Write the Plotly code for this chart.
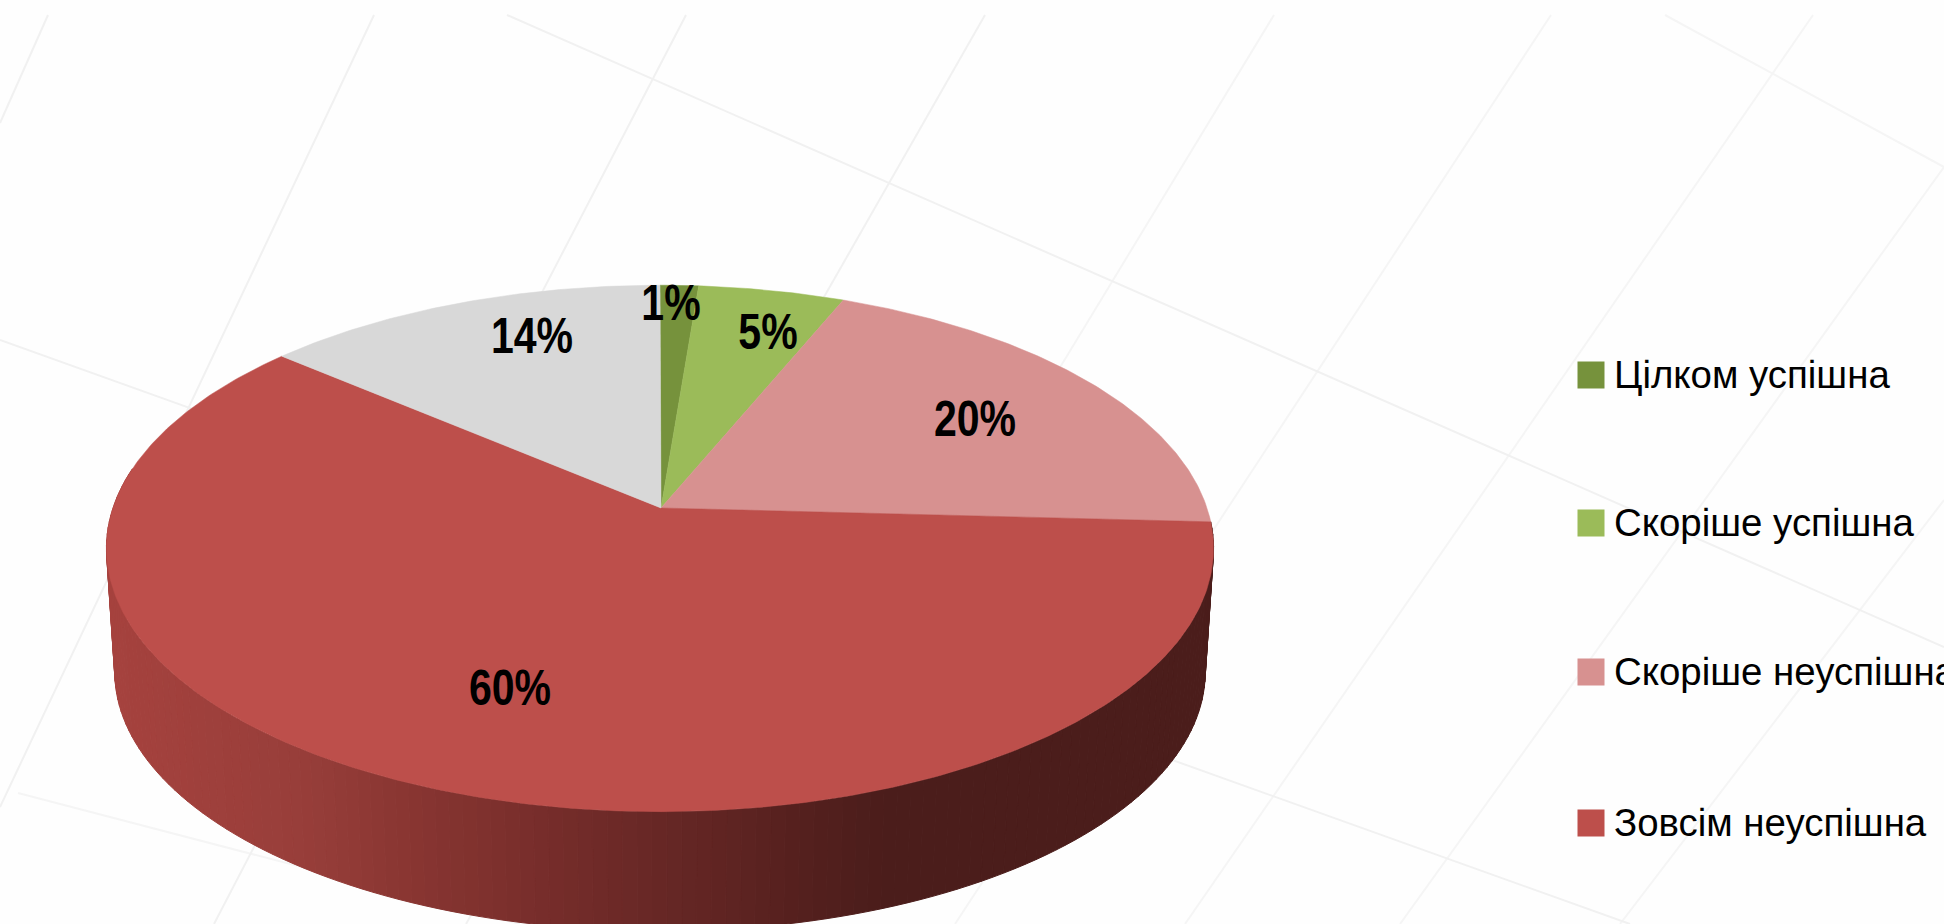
import numpy as np
import plotly.graph_objects as go

# ---- data ----
categories = ["Цілком успішна", "Скоріше успішна", "Скоріше неуспішна", "Зовсім неуспішна", "Інше"]
shares = [1.3, 4.95, 19.6, 60.4, 13.75]
colors = ["#76923c", "#9bbb59", "#d79190", "#bd4f4b", "#d8d8d8"]
legend_count = 4

# ---- placement of the drawing (page pixels) ----
CX, CY = 660.0, 508.0
A, B, K = 547.0, 257.0, 0.1536
DROP, SHRINK = 124.0, 0.985

label_x = [671, 532, 768, 975, 510]
label_order = [0, 4, 1, 2, 3]
label_y = [307, 340, 336, 423, 692]
legend_x = 1591
legend_text_x = 1614
legend_y = [375, 523, 672, 823]
legend_text_y = [378, 526, 675, 826]
side_stop_x = [105, 300, 400, 580, 670, 800, 880, 1214]
side_stop_rgb = [(166, 66, 62), (152, 62, 58), (138, 54, 50), (114, 43, 41),
                 (102, 39, 37), (85, 32, 30), (75, 29, 27), (75, 29, 27)]

# faint background lines of the slide, as (x0, y0, x1, y1)
bg_lines_left = [
    (48, 15, 0, 123), (374, 15, 0, 807), (686, 15, 214, 924), (985, 15, 466, 924),
    (0, 340, 1630, 924), (507, 15, 1944, 647),
]
bg_lines_right = [
    (1274, 15, 722, 924), (1551, 15, 955, 924), (1813, 15, 1185, 924),
    (1944, 167, 1400, 924), (1944, 500, 1620, 924),
    (1665, 15, 1944, 167), (18, 793, 520, 924),
]


def rim(theta, scale=1.0, drop=0.0):
    u, v = np.sin(theta), np.cos(theta)
    d = 1 + K * v
    return CX + scale * A * u / d, CY + drop - scale * B * v / d


fig = go.Figure()

# background lines
for group, col, w in ((bg_lines_right, "#f5f5f5", 2), (bg_lines_left, "#f1f1f1", 2)):
    xs, ys = [], []
    for x0, y0, x1, y1 in group:
        xs += [x0, x1, None]
        ys += [y0, y1, None]
    fig.add_trace(go.Scatter(x=xs, y=ys, mode="lines", line=dict(color=col, width=w),
                             hoverinfo="skip", showlegend=False))

edges = np.cumsum([0] + shares) / 100 * 2 * np.pi
front = 3  # index of the slice whose side wall is visible

# side wall of the front slice: thin strips shaded left to right
ts = np.linspace(max(edges[front], np.pi * 0.45), np.pi * 1.55, 141)
for t0, t1 in zip(ts[:-1], ts[1:]):
    ax, ay = rim(t0)
    bx, by = rim(t1)
    cx, cy = rim(t1, SHRINK, DROP)
    dx, dy = rim(t0, SHRINK, DROP)
    xm = (ax + bx + cx + dx) / 4
    rgb = [np.interp(xm, side_stop_x, [c[i] for c in side_stop_rgb]) for i in range(3)]
    col = "rgb(%d,%d,%d)" % tuple(round(c) for c in rgb)
    fig.add_trace(go.Scatter(x=[ax, bx, cx, dx, ax], y=[ay, by, cy, dy, ay], mode="lines",
                             fill="toself", fillcolor=col, line=dict(color=col, width=1),
                             hoverinfo="skip", showlegend=False))

# top faces
for i, (name, col) in enumerate(zip(categories, colors)):
    t = np.linspace(edges[i], edges[i + 1], max(8, int(shares[i] * 6)))
    rx, ry = rim(t)
    fig.add_trace(go.Scatter(x=[CX + 1] + list(rx) + [CX + 1], y=[CY] + list(ry) + [CY], mode="lines",
                             fill="toself", fillcolor=col, line=dict(color=col, width=0.5),
                             name=name, hovertemplate=f"{name}: {shares[i]:.0f}%<extra></extra>",
                             showlegend=False))

# data labels
fig.add_trace(go.Scatter(
    x=label_x, y=label_y, mode="text",
    text=[f"{shares[i]:.0f}%" for i in label_order],
    textposition="middle center",
    textfont=dict(family="Liberation Sans", size=50, color="#000000", weight="bold"),
    hoverinfo="skip", showlegend=False, cliponaxis=False))

# legend
fig.add_trace(go.Scatter(
    x=[legend_x] * legend_count, y=legend_y, mode="markers",
    marker=dict(symbol="square", size=27, color=colors[:legend_count]),
    hoverinfo="skip", showlegend=False, cliponaxis=False))
fig.add_trace(go.Scatter(
    x=[legend_text_x] * legend_count, y=legend_text_y, mode="text",
    text=categories[:legend_count],
    textposition="middle right",
    textfont=dict(family="Liberation Sans", size=39, color="#000000"),
    hoverinfo="skip", showlegend=False, cliponaxis=False))

fig.update_layout(
    width=1944, height=924, autosize=False,
    margin=dict(l=0, r=0, t=0, b=0),
    paper_bgcolor="#fefefe", plot_bgcolor="#fefefe",
    showlegend=False,
    xaxis=dict(range=[0, 1944], visible=False, fixedrange=True),
    yaxis=dict(range=[924, 0], visible=False, fixedrange=True),
)
squeeze = """
document.body.style.margin='0';document.body.style.overflow='hidden';
document.querySelectorAll('.textpoint text').forEach(function(t){
  var f = t.textContent.indexOf('%') >= 0 ? 0.82 : 0.985;
  t.setAttribute('textLength', t.getComputedTextLength() * f);
  t.setAttribute('lengthAdjust', 'spacingAndGlyphs');
});
"""
fig.write_html("out.html", post_script=squeeze, config={"displayModeBar": False})
